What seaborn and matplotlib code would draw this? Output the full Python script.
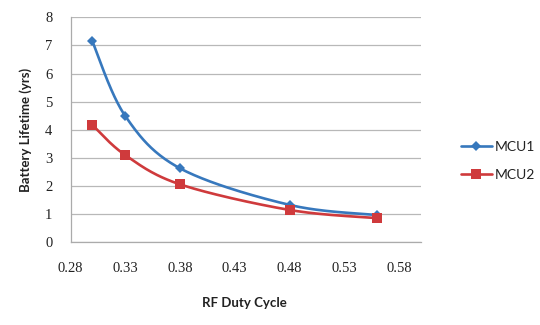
import numpy as np
import pandas as pd
import matplotlib
matplotlib.use("Agg")
import matplotlib.pyplot as plt
from matplotlib.lines import Line2D
import seaborn as sns

# ---- data ----
duty_cycle = [0.30, 0.33, 0.38, 0.48, 0.56]
mcu1 = [7.14, 4.49, 2.63, 1.33, 0.97]
mcu2 = [4.17, 3.10, 2.06, 1.15, 0.86]
series_names = ["MCU1", "MCU2"]
x_ticks = [0.28, 0.33, 0.38, 0.43, 0.48, 0.53, 0.58]
x_tick_labels = ["0.28", "0.33", "0.38", "0.43", "0.48", "0.53", "0.58"]
y_ticks = [0, 1, 2, 3, 4, 5, 6, 7, 8]
y_tick_labels = ["0", "1", "2", "3", "4", "5", "6", "7", "8"]

colors = {"MCU1": "#3778BD", "MCU2": "#CF3A3C"}
markers = {"MCU1": "D", "MCU2": "s"}
msizes = {"MCU1": 5.6, "MCU2": 7.4}


def excel_smooth(x, y, n=40):
    """Excel-style smoothed line: Catmull-Rom cubic Bezier through the points."""
    P = np.column_stack([x, y]).astype(float)
    E = np.vstack([P[0], P, P[-1]])
    t = np.linspace(0, 1, n)[:, None]
    segs = []
    for i in range(len(P) - 1):
        p0, p3 = E[i + 1], E[i + 2]
        c1 = p0 + (E[i + 2] - E[i]) / 6.0
        c2 = p3 - (E[i + 3] - E[i + 1]) / 6.0
        seg = (1 - t) ** 3 * p0 + 3 * (1 - t) ** 2 * t * c1 + 3 * (1 - t) * t ** 2 * c2 + t ** 3 * p3
        segs.append(seg if i == 0 else seg[1:])
    return np.vstack(segs)


sns.set_theme(style="white")
plt.rcParams["font.family"] = ["Lato", "DejaVu Sans"]

fig = plt.figure(figsize=(5.4, 3.25), dpi=100)
ax = fig.add_axes([70.5 / 540, 1 - 242.3 / 325, (421 - 70.5) / 540, (242.3 - 17.3) / 325])

points = pd.DataFrame({
    "duty": duty_cycle * 2,
    "life": mcu1 + mcu2,
    "series": ["MCU1"] * len(duty_cycle) + ["MCU2"] * len(duty_cycle),
})

for name in series_names:
    sub = points[points["series"] == name]
    curve = excel_smooth(sub["duty"].values, sub["life"].values)
    sns.lineplot(x=curve[:, 0], y=curve[:, 1], sort=False, estimator=None,
                 color=colors[name], linewidth=1.9, ax=ax, zorder=3)
    ax.plot(sub["duty"], sub["life"], linestyle="none", marker=markers[name],
            markersize=msizes[name], color=colors[name], markeredgewidth=0, zorder=4)

ax.set_xlim(0.28, 0.60)
ax.set_ylim(0, 8)
ax.set_xticks(x_ticks)
ax.set_xticklabels(x_tick_labels)
ax.set_yticks(y_ticks)
ax.set_yticklabels(y_tick_labels)
ax.yaxis.grid(True, color="#B8B8B8", linewidth=0.9)
ax.xaxis.grid(False)
for s in ["top", "right"]:
    ax.spines[s].set_visible(False)
for s in ["left", "bottom"]:
    ax.spines[s].set_color("#ABABAB")
    ax.spines[s].set_linewidth(0.9)
ax.tick_params(axis="both", length=0, colors="#222222", labelsize=10.5,
               labelfontfamily="Liberation Serif")
ax.tick_params(axis="x", pad=14)
ax.tick_params(axis="y", pad=13)

ax.set_xlabel("RF Duty Cycle", fontsize=9.5, fontweight="bold", color="#222222")
ax.set_ylabel("Battery Lifetime (yrs)", fontsize=9.5, fontweight="bold", color="#222222")
ax.xaxis.set_label_coords((244 - 70.5) / (421 - 70.5), (242.3 - 297) / 225)
ax.yaxis.set_label_coords((31.7 - 70.5) / (421 - 70.5), (242.3 - 130) / 225)

handles = [Line2D([0], [0], color=colors[n], linewidth=1.9, marker=markers[n],
                  markersize=msizes[n], markeredgewidth=0) for n in series_names]
fig.legend(handles, series_names, loc="center left",
           bbox_to_anchor=(448 / 540, 1 - 161 / 325), frameon=False,
           fontsize=10, handlelength=2.3, handletextpad=0.2, labelspacing=1.1,
           labelcolor="#222222")

fig.savefig("out.png", dpi=100)
